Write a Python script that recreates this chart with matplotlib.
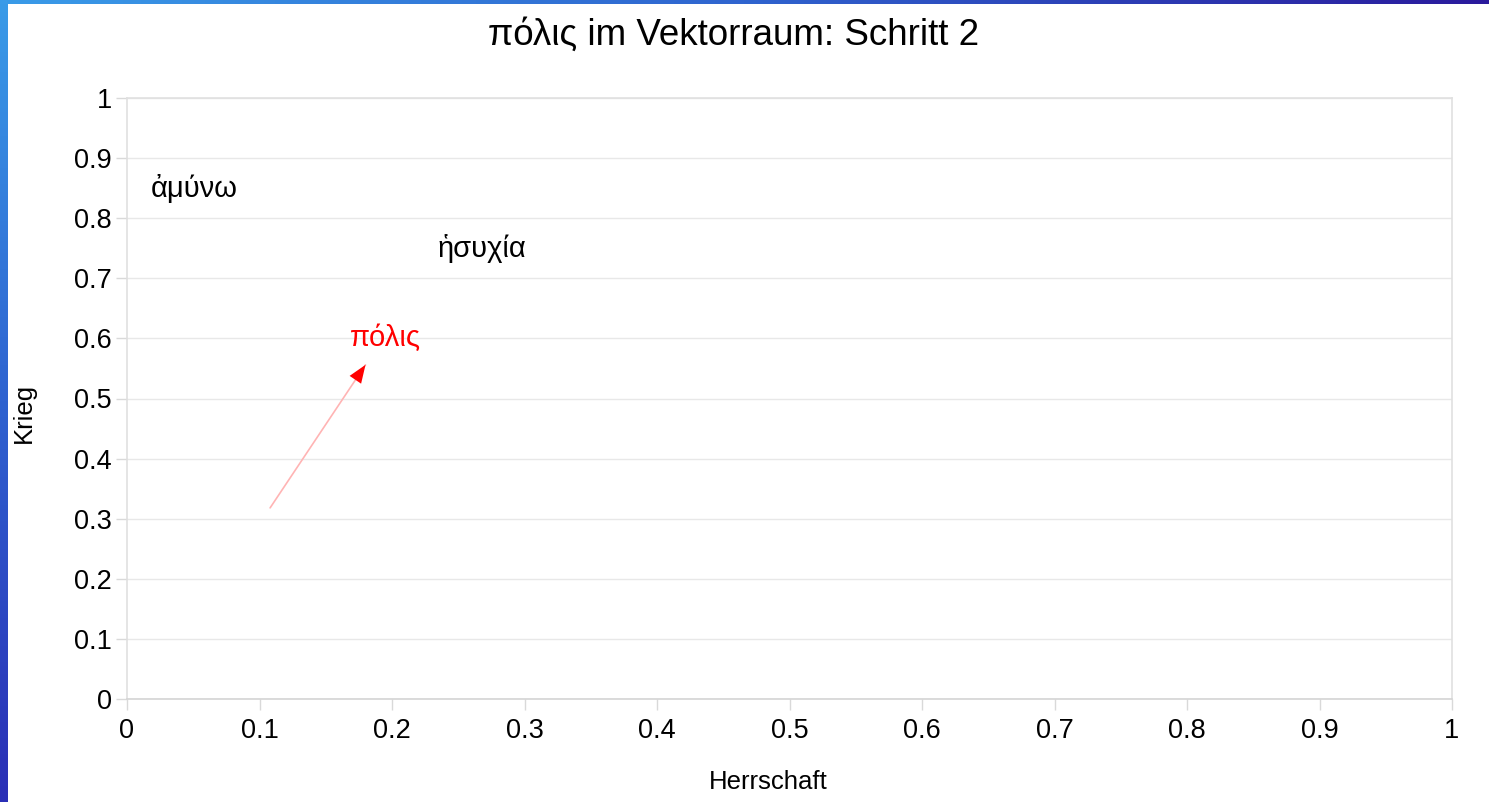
import numpy as np
import matplotlib
matplotlib.use("Agg")
import matplotlib.pyplot as plt
from matplotlib.colors import LinearSegmentedColormap

plt.rcParams['font.family'] = ['Liberation Sans', 'DejaVu Sans']

# word positions in the 2D "vector space"
words = ['ἀμύνω', 'ἡσυχία', 'πόλις']
word_x = [0.051, 0.268, 0.195]
word_y = [0.850, 0.750, 0.600]
word_colors = ['black', 'black', 'red']

# arrow for πόλις (start -> end)
arrow_start = (0.108, 0.318)
arrow_end = (0.180, 0.556)

ticks = [0, 0.1, 0.2, 0.3, 0.4, 0.5, 0.6, 0.7, 0.8, 0.9, 1]
tick_labels = ['0', '0.1', '0.2', '0.3', '0.4', '0.5', '0.6', '0.7', '0.8', '0.9', '1']

W, H = 1489, 802
fig = plt.figure(figsize=(W / 100, H / 100), dpi=100)

# slide frame: gradient strips on top and left
left_cmap = LinearSegmentedColormap.from_list('l', ['#3a9be8', '#2e62d0', '#2a2fb6'])
top_cmap = LinearSegmentedColormap.from_list('t', ['#3a9be8', '#2f64cf', '#2a1a9c'])
ax_l = fig.add_axes([0, 0, 8 / W, 1])
ax_l.imshow(np.linspace(0, 1, 200).reshape(-1, 1), aspect='auto', cmap=left_cmap)
ax_l.axis('off')
ax_t = fig.add_axes([0, 1 - 4 / H, 1, 4 / H])
ax_t.imshow(np.linspace(0, 1, 400).reshape(1, -1), aspect='auto', cmap=top_cmap)
ax_t.axis('off')

ax = fig.add_axes([127 / W, 1 - 699 / H, (1452 - 127) / W, (699 - 98) / H])
ax.set_xlim(0, 1)
ax.set_ylim(0, 1)
ax.set_xticks(ticks)
ax.set_xticklabels(tick_labels)
ax.set_yticks(ticks)
ax.set_yticklabels(tick_labels)
ax.tick_params(labelsize=19.5, colors='#d9d9d9', labelcolor='black', length=8, width=1)
ax.tick_params(axis='x', pad=6)
ax.tick_params(axis='y', pad=3)
ax.grid(axis='y', color='#e8e8e8', linewidth=1)
ax.set_axisbelow(True)
for s in ax.spines.values():
    s.set_color('#e0e0e0')
    s.set_linewidth(1.2)
ax.spines['bottom'].set_color('#d4d4d4')

for w, x, y, c in zip(words, word_x, word_y, word_colors):
    ax.text(x, y, w, ha='center', va='center', fontsize=21, color=c)

ax.annotate('', xy=arrow_end, xytext=arrow_start,
            arrowprops=dict(arrowstyle='-', color='#ffb4b4', lw=1.2, shrinkA=0, shrinkB=0))
ax.annotate('', xy=arrow_end, xytext=(arrow_end[0] - 0.0008, arrow_end[1] - 0.0026),
            arrowprops=dict(arrowstyle='-|>,head_length=1.3,head_width=0.5',
                            color='red', lw=0, shrinkA=0, shrinkB=0))

fig.text(734 / W, 1 - 35 / H, 'πόλις im Vektorraum: Schritt 2', ha='center', va='center', fontsize=26.5)
fig.text(768 / W, 1 - 782 / H, 'Herrschaft', ha='center', va='center', fontsize=18.5)
fig.text(24 / W, 1 - 413 / H, 'Krieg', ha='center', va='center', fontsize=18.5, rotation=90)

fig.savefig('out.png', dpi=100)
